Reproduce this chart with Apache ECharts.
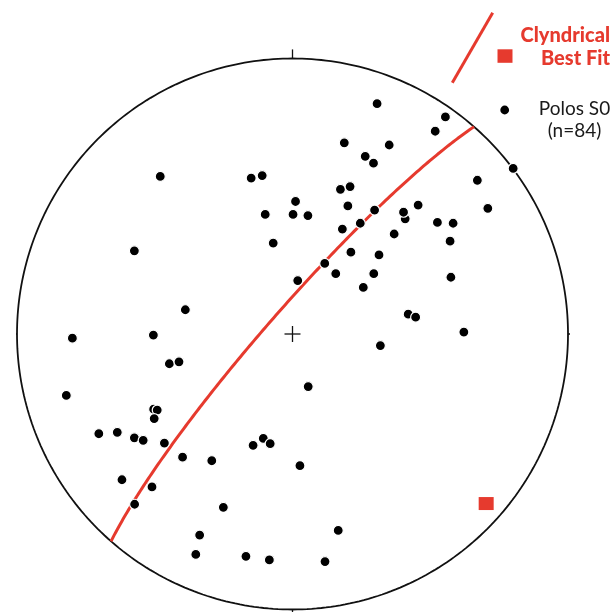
<!DOCTYPE html>
<html>
<head>
<meta charset="utf-8">
<script src="https://cdn.jsdelivr.net/npm/echarts@6/dist/echarts.min.js"></script>
<style>
  html, body { margin: 0; padding: 0; background: #ffffff; }
  #chart { width: 614px; height: 612px; }
</style>
</head>
<body>
<div id="chart"></div>
<script>
// Poles to bedding S0 on a lower-hemisphere equal-area (Schmidt) net.
// Each entry is [x, y] on the net: x = east, y = north, primitive circle radius = 1.
const polesS0 = [
  [-0.480, 0.572], [-0.150, 0.566], [-0.110, 0.575], [0.011, 0.481], [-0.099, 0.434],
  [0.002, 0.434], [0.056, 0.430], [-0.574, 0.302], [-0.070, 0.330], [0.019, 0.194],
  [-0.389, 0.088], [-0.505, -0.004], [-0.799, -0.015], [0.307, 0.836], [0.555, 0.788],
  [0.518, 0.736], [0.188, 0.694], [0.351, 0.686], [0.264, 0.645], [0.294, 0.620],
  [0.801, 0.601], [0.671, 0.558], [0.174, 0.525], [0.209, 0.535], [0.201, 0.465],
  [0.298, 0.450], [0.456, 0.468], [0.409, 0.418], [0.403, 0.442], [0.709, 0.456],
  [0.526, 0.405], [0.583, 0.402], [0.181, 0.381], [0.246, 0.402], [0.369, 0.363],
  [0.572, 0.337], [0.212, 0.297], [0.314, 0.287], [0.117, 0.256], [0.157, 0.219],
  [0.295, 0.219], [0.257, 0.169], [0.575, 0.206], [0.420, 0.072], [0.447, 0.061],
  [0.622, 0.007], [-0.447, -0.108], [-0.412, -0.101], [-0.821, -0.223], [-0.504, -0.273],
  [-0.491, -0.276], [-0.502, -0.307], [-0.703, -0.362], [-0.636, -0.357], [-0.574, -0.377],
  [-0.542, -0.386], [-0.465, -0.396], [-0.399, -0.447], [-0.293, -0.460], [-0.143, -0.404],
  [-0.106, -0.379], [-0.081, -0.398], [0.027, -0.478], [-0.619, -0.529], [-0.510, -0.555],
  [-0.573, -0.618], [-0.251, -0.629], [-0.337, -0.730], [-0.351, -0.800], [-0.169, -0.807],
  [-0.084, -0.820], [0.319, -0.042], [0.057, -0.191], [0.166, -0.713], [0.118, -0.826]
];
const poleCount = 84;

// Cylindrical best-fit axis (pole of the best-fit girdle), degrees
const bestFitTrend = 131.2;
const bestFitPlunge = 7.3;

// Legend texts
const legendFitLines = ['Clyndrical', 'Best Fit'];
const legendPolesLines = ['Polos S0', '(n=' + poleCount + ')'];

const RED = '#e63a2e';
const INK = '#111111';
const D2R = Math.PI / 180;

// Equal-area projection of a unit direction vector (east, north, down), lower hemisphere
function projectVector(e, n, d) {
  if (d < 0) { e = -e; n = -n; d = -d; }
  const h = Math.sqrt(e * e + n * n);
  const rho = Math.sqrt(Math.max(0, 1 - d));
  if (h < 1e-12) return [0, 0];
  return [rho * e / h, rho * n / h];
}
function lineVector(trend, plunge) {
  const t = trend * D2R, p = plunge * D2R;
  return [Math.cos(p) * Math.sin(t), Math.cos(p) * Math.cos(t), Math.sin(p)];
}

// Best-fit axis point
const axisVec = lineVector(bestFitTrend, bestFitPlunge);
const axisPoint = projectVector(axisVec[0], axisVec[1], axisVec[2]);

// Best-fit girdle: great circle normal to the fitted axis
const strikeVec = lineVector(bestFitTrend - 90, 0);
const dipVec = lineVector(bestFitTrend + 180, 90 - bestFitPlunge);
const girdle = [];
for (let i = 0; i <= 180; i++) {
  const a = i * D2R;
  const c = Math.cos(a), s = Math.sin(a);
  girdle.push(projectVector(
    c * strikeVec[0] + s * dipVec[0],
    c * strikeVec[1] + s * dipVec[1],
    c * strikeVec[2] + s * dipVec[2]
  ));
}

// Primitive circle
const primitive = [];
for (let i = 0; i <= 360; i++) {
  primitive.push([Math.sin(i * D2R), Math.cos(i * D2R)]);
}

// N / E / S / W ticks and centre cross
const tickLen = 0.033;
const crossHalf = 0.029;
const segments = [
  [[0, 1], [0, 1 + tickLen]],
  [[1, 0], [1 + tickLen, 0]],
  [[0, -1], [0, -1 - tickLen]],
  [[-1, 0], [-1 - tickLen, 0]],
  [[-crossHalf, 0], [crossHalf, 0]],
  [[0, -crossHalf], [0, crossHalf]]
];

const series = [];
series.push({
  type: 'line', data: primitive, showSymbol: false, silent: true, clip: false,
  lineStyle: { color: INK, width: 1.8 }, z: 2, animation: false
});
segments.forEach(function (seg) {
  series.push({
    type: 'line', data: seg, showSymbol: false, silent: true, clip: false,
    lineStyle: { color: INK, width: 1.3 }, z: 2, animation: false
  });
});
series.push({
  type: 'line', data: girdle, showSymbol: false, silent: true, clip: false,
  lineStyle: { color: RED, width: 3 }, z: 3, animation: false
});
series.push({
  type: 'scatter', data: [axisPoint], symbol: 'rect', symbolSize: [15, 13],
  itemStyle: { color: RED, opacity: 1 }, clip: false, z: 4, animation: false
});
series.push({
  type: 'scatter', data: polesS0, symbol: 'circle', symbolSize: 10,
  itemStyle: { color: '#000000', borderColor: '#ffffff', borderWidth: 1.2, opacity: 1 },
  clip: false, z: 5, animation: false
});

const chart = echarts.init(document.getElementById('chart'), null, { renderer: 'canvas' });
chart.setOption({
  backgroundColor: '#ffffff',
  animation: false,
  grid: { left: 17, top: 58.5, width: 551, height: 551, containLabel: false },
  xAxis: { type: 'value', min: -1, max: 1, show: false },
  yAxis: { type: 'value', min: -1, max: 1, show: false },
  series: series,
  graphic: [
    { type: 'line', shape: { x1: 452.3, y1: 82.7, x2: 492.7, y2: 12.7 },
      style: { stroke: RED, lineWidth: 3 }, silent: true },
    { type: 'rect', shape: { x: 497.5, y: 49.3, width: 15, height: 13.5 },
      style: { fill: RED }, silent: true },
    { type: 'text', style: { x: 610, y: 35.5, text: legendFitLines[0], fill: RED,
      font: '900 20px Lato, "Liberation Sans Narrow", sans-serif', align: 'right', verticalAlign: 'middle' }, silent: true },
    { type: 'text', style: { x: 610, y: 59, text: legendFitLines[1], fill: RED,
      font: '900 20px Lato, "Liberation Sans Narrow", sans-serif', align: 'right', verticalAlign: 'middle' }, silent: true },
    { type: 'circle', shape: { cx: 504.7, cy: 110, r: 4.4 }, style: { fill: '#000000' }, silent: true },
    { type: 'text', style: { x: 574.5, y: 109.3, text: legendPolesLines[0], fill: '#1a1a1a',
      font: '19px Lato, sans-serif', align: 'center', verticalAlign: 'middle' }, silent: true },
    { type: 'text', style: { x: 574.5, y: 130.5, text: legendPolesLines[1], fill: '#1a1a1a',
      font: '19px Lato, sans-serif', align: 'center', verticalAlign: 'middle' }, silent: true }
  ]
});
</script>
</body>
</html>
